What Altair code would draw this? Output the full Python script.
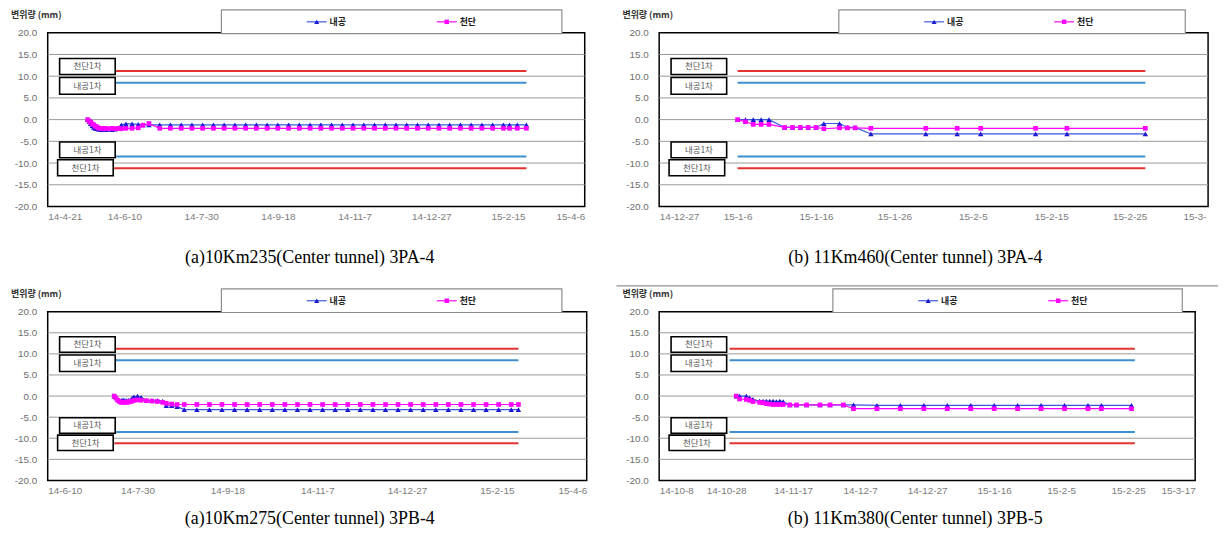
import altair as alt
import pandas as pd

# ---------------- data ----------------
SERIES = ["내공", "천단"]
LIMIT_NAMES = ["천단1차", "내공1차"]
LIMIT_CROWN = 11.2
LIMIT_CONV = 8.5
Y_TICKS = [-20, -15, -10, -5, 0, 5, 10, 15, 20]
GRID_LINES = [-15, -10, -5, 0, 5, 10, 15]
Y_TITLE = "변위량 (mm)"

# Panel 1 : 10Km235 3PA-4  (days counted from P1_START)
P1_START, P1_END = "2014-04-21", "2015-04-06"
P1_TICKS = ["2014-04-21", "2014-06-10", "2014-07-30", "2014-09-18",
            "2014-11-07", "2014-12-27", "2015-02-15", "2015-04-06"]
P1_DAYS = [26, 27, 28, 29, 30, 31, 32, 33, 34, 35, 36, 37, 38, 40, 42, 44, 46, 48, 51, 55, 59, 62, 66,
           73, 80, 87, 94, 101, 108, 115, 122, 129, 136, 143, 150, 157, 164, 171, 178, 185,
           192, 199, 206, 213, 220, 227, 234, 241, 248, 255, 262, 269, 276, 283, 290, 297,
           301, 306, 312]
P1_NAEGONG = [0.0, -0.4, -0.9, -1.4, -1.8, -2.0, -2.1, -2.2, -2.2, -2.3, -2.3, -2.2, -2.3, -2.2,
              -2.3, -2.2, -1.9, -1.2, -1.0, -1.0, -1.1, -1.2, -1.2,
              -1.2, -1.2, -1.2, -1.2, -1.2, -1.2, -1.2, -1.2, -1.2, -1.2, -1.2, -1.2,
              -1.2, -1.2, -1.2, -1.2, -1.2, -1.2, -1.2, -1.2, -1.2, -1.2, -1.2, -1.2,
              -1.2, -1.2, -1.2, -1.2, -1.2, -1.2, -1.2, -1.2, -1.2, -1.2, -1.2, -1.2]
P1_CHEONDAN = [0.0, -0.3, -0.6, -1.0, -1.2, -1.5, -1.7, -1.9, -2.0, -2.0, -2.1, -2.0, -2.1, -2.1,
               -2.0, -2.1, -2.0, -2.1, -2.0, -2.0, -1.9, -1.3, -0.9,
               -2.0, -2.0, -2.0, -2.0, -2.0, -2.0, -2.0, -2.0, -2.0, -2.0, -2.0, -2.0,
               -2.0, -2.0, -2.0, -2.0, -2.0, -2.0, -2.0, -2.0, -2.0, -2.0, -2.0, -2.0,
               -2.0, -2.0, -2.0, -2.0, -2.0, -2.0, -2.0, -2.0, -2.0, -2.0, -2.0, -2.0]
P1_LIMIT_DAYS = [26, 312]
P1_CAPTION = "(a)10Km235(Center tunnel) 3PA-4"

# Panel 2 : 11Km460 3PA-4
P2_START, P2_END = "2014-12-27", "2015-03-07"
P2_TICKS = ["2014-12-27", "2015-01-06", "2015-01-16", "2015-01-26",
            "2015-02-05", "2015-02-15", "2015-02-25", "2015-03-07"]
P2_DAYS = [10, 11, 12, 13, 14, 16, 17, 18, 19, 20, 21, 23, 24, 25, 27, 34, 38, 41, 48, 52, 62]
P2_NAEGONG = [0.0, 0.0, 0.0, 0.0, 0.0, -1.8, -1.8, -1.8, -1.8, -1.8, -0.9, -0.9, -1.8, -1.8,
              -3.3, -3.3, -3.3, -3.3, -3.3, -3.3, -3.3]
P2_CHEONDAN = [0.0, -0.5, -1.1, -1.1, -1.1, -1.8, -1.8, -1.8, -1.8, -1.8, -2.1, -1.9, -1.9, -1.9,
               -2.0, -2.0, -2.0, -2.0, -2.0, -2.0, -2.0]
P2_LIMIT_DAYS = [10, 62]
P2_CAPTION = "(b) 11Km460(Center tunnel) 3PA-4"

# Panel 3 : 10Km275 3PB-4
P3_START, P3_END = "2014-06-10", "2015-04-06"
P3_TICKS = ["2014-06-10", "2014-07-30", "2014-09-18", "2014-11-07",
            "2014-12-27", "2015-02-15", "2015-04-06"]
P3_DAYS = [37, 38, 39, 40, 41, 42, 43, 44, 45, 46, 47, 48, 50, 52, 55, 58, 61, 64, 66, 69, 72,
           76, 83, 90, 97, 104, 111, 118, 125, 132, 139, 146, 153, 160, 167, 174, 181, 188,
           195, 202, 209, 216, 223, 230, 237, 244, 251, 258, 262]
P3_NAEGONG = [0.0, -0.2, -0.8, -1.0, -1.0, -0.9, -1.0, -1.1, -1.0, -0.9, -0.5, -0.2, 0.0, -0.3,
              -1.0, -1.0, -1.0, -1.2, -2.3, -2.3, -2.5,
              -3.2, -3.2, -3.2, -3.2, -3.2, -3.2, -3.2, -3.2, -3.2, -3.2, -3.2, -3.2, -3.2, -3.2,
              -3.2, -3.2, -3.2, -3.2, -3.2, -3.2, -3.2, -3.2, -3.2, -3.2, -3.2, -3.2, -3.2, -3.2]
P3_CHEONDAN = [0.0, -0.5, -1.0, -1.3, -1.5, -1.5, -1.4, -1.5, -1.4, -1.3, -1.2, -1.0, -0.9, -1.0,
               -1.1, -1.2, -1.3, -1.5, -1.7, -1.9, -2.0,
               -2.0, -2.0, -2.0, -2.0, -2.0, -2.0, -2.0, -2.0, -2.0, -2.0, -2.0, -2.0, -2.0, -2.0,
               -2.0, -2.0, -2.0, -2.0, -2.0, -2.0, -2.0, -2.0, -2.0, -2.0, -2.0, -2.0, -2.0, -2.0]
P3_LIMIT_DAYS = [37, 262]
P3_CAPTION = "(a)10Km275(Center tunnel) 3PB-4"

# Panel 4 : 11Km380 3PB-5
P4_START, P4_END = "2014-10-08", "2015-03-17"
P4_TICKS = ["2014-10-08", "2014-10-28", "2014-11-17", "2014-12-07", "2014-12-27",
            "2015-01-16", "2015-02-05", "2015-02-25", "2015-03-17"]
P4_DAYS = [23, 24, 26, 27, 28, 30, 31, 32, 33, 34, 35, 36, 37, 39, 41, 44, 48, 51, 55, 58,
           65, 72, 79, 86, 93, 100, 107, 114, 121, 128, 132, 141]
P4_NAEGONG = [0.0, 0.0, 0.0, -0.4, -0.8, -1.2, -1.2, -1.2, -1.2, -1.2, -1.3, -1.2, -1.3, -2.1,
              -2.1, -2.1, -2.1, -2.1, -2.1, -2.1, -2.2, -2.2, -2.2, -2.2, -2.2, -2.2, -2.2, -2.2,
              -2.2, -2.2, -2.2, -2.2]
P4_CHEONDAN = [0.0, -0.7, -0.8, -1.0, -1.3, -1.5, -1.6, -1.8, -1.9, -2.0, -2.0, -2.0, -2.0, -2.1,
               -2.1, -2.1, -2.1, -2.1, -2.1, -3.0, -3.0, -3.0, -3.0, -3.0, -3.0, -3.0, -3.0, -3.0,
               -3.0, -3.0, -3.0, -3.0]
P4_LIMIT_DAYS = [21, 142]
P4_CAPTION = "(b) 11Km380(Center tunnel) 3PB-5"

# ---------------- style ----------------
KR = "Noto Sans CJK KR"
SANS = "Liberation Sans"
SERIF = "Liberation Serif"
C_NG_LINE, C_NG_PT = "#3a55e0", "#1a1ad0"
C_CD = "#ff00ff"
C_RED, C_BLUE = "#e2342f", "#3d8fcf"


def dt(s):
    y, m, d = (int(v) for v in s.split("-"))
    return alt.DateTime(year=y, month=m, date=d)


def one(**kw):
    return pd.DataFrame([kw])


def make_panel(start, end, ticks, days, ng, cd, lim_days, caption, lay, last_label=None):
    t0 = pd.Timestamp(start)
    dates = [t0 + pd.Timedelta(days=int(d)) for d in days]
    n = len(days)
    df = pd.DataFrame({"date": dates + dates,
                       "value": list(ng) + list(cd),
                       "series": [SERIES[0]] * n + [SERIES[1]] * n})
    W, H = lay["w"], lay["h"]
    xscale = alt.Scale(domain=[dt(start), dt(end)], nice=False)
    yscale = alt.Scale(domain=[-20, 20], nice=False)

    xaxis_kw = dict(values=[dt(t) for t in ticks], format="%y-%-m-%-d", grid=False, domain=False,
                    ticks=False, labelPadding=5, labelFontSize=10, labelColor="#7c7c7c",
                    labelFont=SANS, labelOverlap=False)
    if last_label:
        test = "datum.value > datetime(2015, 2, 1)"
        xaxis_kw["labelExpr"] = f"{test} ? '{last_label}' : datum.label"
        xaxis_kw["labelOffset"] = {"condition": {"test": test, "value": -2}, "value": 0}
    xaxis = alt.Axis(**xaxis_kw)
    yaxis = alt.Axis(values=Y_TICKS, grid=False, domain=False, ticks=False, labelPadding=11,
                     labelFontSize=10, labelColor="#6e6e6e", labelFont=SANS,
                     labelExpr="datum.value < 0 ? '-' + format(-datum.value, '.1f') : format(datum.value, '.1f')")

    def xe(f):
        return alt.X(f, scale=xscale, axis=xaxis, title=None)

    def ye(f):
        return alt.Y(f, scale=yscale, axis=yaxis, title=None)

    layers = []
    # gridlines
    layers.append(alt.Chart(pd.DataFrame({"v": GRID_LINES})).mark_rule(color="#999999", strokeWidth=1)
                  .encode(y=ye("v:Q")))
    # management limit lines
    lim = pd.DataFrame({"start": [t0 + pd.Timedelta(days=lim_days[0])] * 4,
                        "end": [t0 + pd.Timedelta(days=lim_days[1])] * 4,
                        "value": [LIMIT_CROWN, LIMIT_CONV, -LIMIT_CONV, -LIMIT_CROWN],
                        "kind": [LIMIT_NAMES[0], LIMIT_NAMES[1], LIMIT_NAMES[1], LIMIT_NAMES[0]]})
    for kind, col in [(LIMIT_NAMES[1], C_BLUE), (LIMIT_NAMES[0], C_RED)]:
        layers.append(alt.Chart(lim).transform_filter(alt.datum.kind == kind)
                      .mark_rule(color=col, strokeWidth=2)
                      .encode(x=xe("start:T"), x2=alt.X2("end:T"), y=ye("value:Q")))
    # series
    for s, lc, pc, shp, sz in [(SERIES[0], C_NG_LINE, C_NG_PT, "triangle-up", 30),
                               (SERIES[1], C_CD, C_CD, "square", 22)]:
        layers.append(alt.Chart(df).transform_filter(alt.datum.series == s)
                      .mark_line(color=lc, strokeWidth=1.2,
                                 point=alt.OverlayMarkDef(filled=True, shape=shp, size=sz, color=pc, opacity=1))
                      .encode(x=xe("date:T"), y=ye("value:Q")))
    # label boxes
    k = H / 175.0
    for label, x0, x1, y0, y1 in [(LIMIT_NAMES[0], 12, 68, 26, 42), (LIMIT_NAMES[1], 12, 68, 45, 62),
                                  (LIMIT_NAMES[1], 12, 68, 110, 126), (LIMIT_NAMES[0], 10, 66, 128, 144)]:
        y0s, y1s = y0 * k, y1 * k
        layers.append(alt.Chart(one(label=label)).mark_rect(fill="white", stroke="black", strokeWidth=1.6)
                      .encode(x=alt.value(x0), x2=alt.value(x1), y=alt.value(y0s), y2=alt.value(y1s)))
        layers.append(alt.Chart(one(label=label)).mark_text(font=KR, fontSize=8.5, color="#555555")
                      .encode(x=alt.value((x0 + x1) / 2), y=alt.value((y0s + y1s) / 2), text="label:N"))
    # legend box
    bx0, bx1 = lay["lx0"], lay["lx1"]
    layers.append(alt.Chart(one(a=1)).mark_rect(fill="white", stroke="#8c8c8c", strokeWidth=1.2)
                  .encode(x=alt.value(bx0), x2=alt.value(bx1), y=alt.value(-23), y2=alt.value(0.8)))
    for s, lc, pc, shp, sz, off in [(SERIES[0], C_NG_LINE, C_NG_PT, "triangle-up", 26, 86),
                                    (SERIES[1], C_CD, C_CD, "square", 20, 217)]:
        layers.append(alt.Chart(one(label=s)).mark_rule(color=lc, strokeWidth=1.2)
                      .encode(x=alt.value(bx0 + off), x2=alt.value(bx0 + off + 20), y=alt.value(-11)))
        layers.append(alt.Chart(one(label=s)).mark_point(filled=True, shape=shp, size=sz, color=pc, opacity=1)
                      .encode(x=alt.value(bx0 + off + 10), y=alt.value(-11)))
        layers.append(alt.Chart(one(label=s)).mark_text(font=KR, fontSize=9, fontWeight="bold", color="#222222",
                                                        align="left", baseline="middle")
                      .encode(x=alt.value(bx0 + off + 23), y=alt.value(-11), text="label:N"))
    # y title
    layers.append(alt.Chart(one(t=Y_TITLE)).mark_text(font=KR, fontSize=9, fontWeight="bold", color="#333333",
                                                      align="left", baseline="top")
                  .encode(x=alt.value(-37), y=alt.value(-22), text="t:N"))
    # caption
    layers.append(alt.Chart(one(t=caption)).mark_text(font=SERIF, fontSize=18, color="black",
                                                      align="center", baseline="alphabetic")
                  .encode(x=alt.value(lay["cx"]), y=alt.value(lay["cy"]), text="t:N"))
    if lay.get("sep"):
        layers.append(alt.Chart(one(a=1)).mark_rule(color="#777777", strokeWidth=1)
                      .encode(x=alt.value(-43), x2=alt.value(563), y=alt.value(-26)))
    return alt.layer(*layers).properties(width=W, height=H)


p1 = make_panel(P1_START, P1_END, P1_TICKS, P1_DAYS, P1_NAEGONG, P1_CHEONDAN, P1_LIMIT_DAYS, P1_CAPTION,
                dict(w=541, h=175, lx0=175, lx1=518, cx=264, cy=232))
p2 = make_panel(P2_START, P2_END, P2_TICKS, P2_DAYS, P2_NAEGONG, P2_CHEONDAN, P2_LIMIT_DAYS, P2_CAPTION,
                dict(w=553, h=175, lx0=181, lx1=530, cx=258, cy=232), last_label="15-3-")
p3 = make_panel(P3_START, P3_END, P3_TICKS, P3_DAYS, P3_NAEGONG, P3_CHEONDAN, P3_LIMIT_DAYS, P3_CAPTION,
                dict(w=543, h=170, lx0=175, lx1=518, cx=264, cy=214))
p4 = make_panel(P4_START, P4_END, P4_TICKS, P4_DAYS, P4_NAEGONG, P4_CHEONDAN, P4_LIMIT_DAYS, P4_CAPTION,
                dict(w=540, h=170, lx0=175, lx1=527, cx=258, cy=214, sep=True))

chart = (alt.concat(p1, p2, p3, p4, columns=2, spacing={"row": 106, "column": 73}, bounds="flush")
         .properties(padding={"left": 2, "top": -2, "right": 0, "bottom": 0}, background="white")
         .configure_view(stroke="black", strokeWidth=1.5))

chart.save("out.html", embed_options={"renderer": "svg", "actions": False})
